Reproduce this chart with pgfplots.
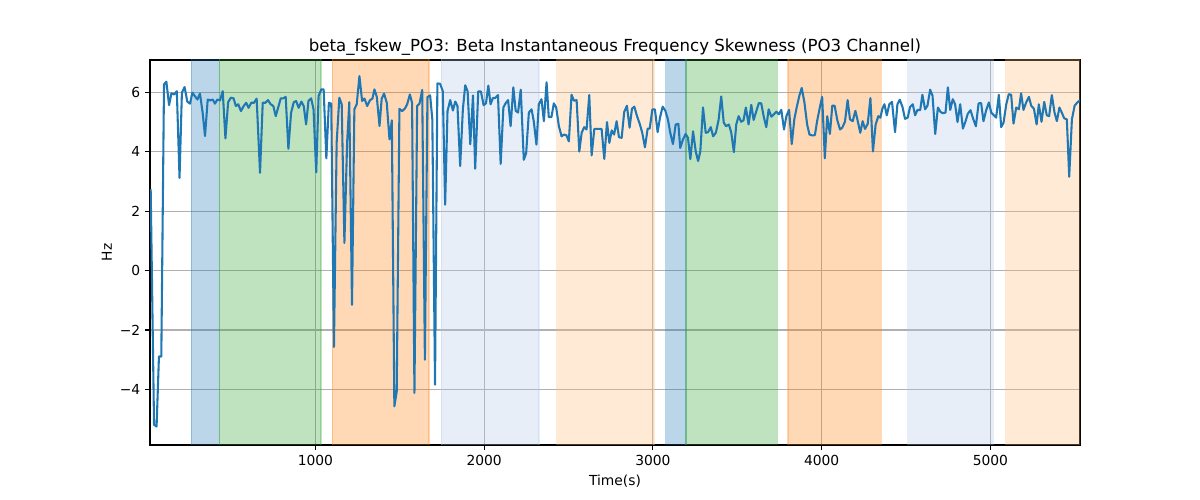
\documentclass[border=0pt]{standalone}
\usepackage{pgfplots}
\pgfplotsset{compat=1.18}
\usepackage{fontspec}
\setmainfont{DejaVu Sans}
\definecolor{tabblue}{HTML}{1F77B4}
\definecolor{tabgreen}{HTML}{2CA02C}
\definecolor{taborange}{HTML}{FF7F0E}
\definecolor{ltblue}{HTML}{AEC7E8}
\definecolor{ltorange}{HTML}{FFBB78}
\definecolor{gridgray}{HTML}{B0B0B0}
\begin{document}
\begin{tikzpicture}
\path[use as bounding box] (0,0) rectangle (12in,5in);
\begin{axis}[
  at={(1.5in,0.55in)}, anchor=south west,
  scale only axis, width=9.3in, height=3.85in,
  xmin=20, xmax=5531, ymin=-5.87, ymax=7.09,
  xtick={1000,2000,3000,4000,5000},
  xticklabels={1000,2000,3000,4000,5000},
  ytick={-4,-2,0,2,4,6},
  yticklabels={−4,−2,0,2,4,6},
  tick align=outside, major tick length=3.5pt,
  tick style={black, line width=0.8pt},
  tick pos=left,
  grid=major,
  major grid style={color=gridgray, line width=0.8pt},
  axis line style={black, line width=0.8pt},
  ticklabel style={font=\fontsize{10}{12}\selectfont},
  title={beta\_fskew\_PO3: Beta Instantaneous Frequency Skewness (PO3 Channel)},
  title style={font=\fontsize{12}{14}\selectfont, at={(0.5,1)}, anchor=south, yshift=-6pt},
  xlabel={Time(s)}, ylabel={Hz},
  ylabel style={xshift=0pt, yshift=-1pt},
  label style={font=\fontsize{10}{12}\selectfont},
  clip=true,
]
\addplot[draw=tabblue, draw opacity=0.3, fill=tabblue, fill opacity=0.3, line width=1pt] coordinates {(265,-10) (265,10) (431,10) (431,-10)} -- cycle;
\addplot[draw=tabgreen, draw opacity=0.3, fill=tabgreen, fill opacity=0.3, line width=1pt] coordinates {(431,-10) (431,10) (1034,10) (1034,-10)} -- cycle;
\addplot[draw=taborange, draw opacity=0.3, fill=taborange, fill opacity=0.3, line width=1pt] coordinates {(1101,-10) (1101,10) (1674,10) (1674,-10)} -- cycle;
\addplot[draw=ltblue, draw opacity=0.3, fill=ltblue, fill opacity=0.3, line width=1pt] coordinates {(1747,-10) (1747,10) (2326,10) (2326,-10)} -- cycle;
\addplot[draw=ltorange, draw opacity=0.3, fill=ltorange, fill opacity=0.3, line width=1pt] coordinates {(2429,-10) (2429,10) (3006,10) (3006,-10)} -- cycle;
\addplot[draw=tabblue, draw opacity=0.3, fill=tabblue, fill opacity=0.3, line width=1pt] coordinates {(3075,-10) (3075,10) (3196,10) (3196,-10)} -- cycle;
\addplot[draw=tabgreen, draw opacity=0.3, fill=tabgreen, fill opacity=0.3, line width=1pt] coordinates {(3196,-10) (3196,10) (3737,10) (3737,-10)} -- cycle;
\addplot[draw=taborange, draw opacity=0.3, fill=taborange, fill opacity=0.3, line width=1pt] coordinates {(3800,-10) (3800,10) (4354,10) (4354,-10)} -- cycle;
\addplot[draw=ltblue, draw opacity=0.3, fill=ltblue, fill opacity=0.3, line width=1pt] coordinates {(4510,-10) (4510,10) (5018,10) (5018,-10)} -- cycle;
\addplot[draw=ltorange, draw opacity=0.3, fill=ltorange, fill opacity=0.3, line width=1pt] coordinates {(5091,-10) (5091,10) (5600,10) (5600,-10)} -- cycle;
\addplot[tabblue, line width=1.5pt, mark=none, line join=round] table {
24 2.75
44 -5.19
59 -5.25
73 -2.89
87 -2.89
103 6.27
117 6.36
133 5.57
147 5.97
163 5.93
179 6.04
195 3.12
209 5.99
225 6.18
241 5.69
257 5.62
271 5.99
285 5.88
301 5.76
316 5.96
332 5.31
346 4.53
362 5.76
378 5.73
392 5.76
405 5.62
419 5.76
435 5.73
451 6.04
467 4.45
483 5.67
499 5.82
515 5.80
529 5.54
543 5.60
559 5.37
575 5.54
590 5.65
604 5.48
620 5.65
636 5.65
652 5.79
672 3.29
688 5.65
704 5.65
719 5.74
735 5.6
751 5.54
765 5.2
779 5.48
795 5.8
810 5.8
824 5.85
840 4.1
856 5.31
872 5.67
886 5.71
901 5.48
917 5.69
931 5.54
945 4.92
959 5.71
975 5.8
989 5.43
1005 3.31
1019 5.88
1035 6.1
1049 6.1
1065 3.78
1080 5.65
1094 5.62
1110 -2.57
1126 4.3
1142 5.82
1156 5.6
1172 0.93
1188 4.3
1201 5.67
1217 -1.15
1231 5.43
1245 5.6
1261 6.55
1277 5.71
1291 5.79
1307 5.54
1324 5.74
1338 5.79
1350 6.1
1364 5.85
1380 4.87
1393 5.79
1407 5.96
1423 5.65
1439 4.42
1453 5.06
1468 -4.57
1482 -4.07
1498 5.45
1514 5.37
1530 5.45
1544 5.6
1560 5.93
1573 5.65
1587 -4.12
1603 5.54
1617 5.62
1633 6.08
1649 -3.0
1664 5.84
1680 5.9
1693 5.09
1709 -3.84
1723 6.3
1739 6.29
1755 6.04
1769 2.22
1783 5.37
1799 5.74
1815 5.39
1829 5.69
1842 5.54
1858 3.52
1874 5.43
1888 6.24
1902 6.04
1918 4.25
1934 5.9
1947 3.43
1965 6.03
1981 6.03
1997 5.57
2011 5.63
2025 6.23
2038 5.6
2052 5.81
2066 5.81
2082 5.91
2098 3.59
2114 5.49
2128 5.64
2142 5.74
2157 4.86
2173 6.17
2187 5.38
2201 5.32
2217 6.09
2235 3.73
2249 3.95
2265 5.32
2281 5.43
2294 5.03
2310 4.24
2324 5.6
2340 5.77
2354 5.03
2370 6.34
2383 5.17
2399 5.17
2413 5.63
2427 5.49
2443 4.86
2459 4.52
2473 4.58
2487 4.56
2502 4.35
2518 5.92
2532 5.72
2548 5.74
2564 4.01
2578 4.64
2593 4.83
2607 4.75
2623 5.91
2637 3.88
2653 4.77
2666 4.77
2680 4.77
2696 4.77
2712 3.76
2728 5.0
2742 4.3
2756 4.72
2770 4.58
2785 5.03
2799 4.49
2815 4.47
2830 5.34
2846 5.55
2862 4.81
2876 5.45
2890 5.52
2906 5.2
2922 4.94
2937 4.64
2953 4.15
2969 4.78
2981 4.78
2997 5.43
3012 5.43
3028 4.66
3042 5.15
3058 5.52
3074 5.38
3089 5.09
3103 4.64
3119 4.26
3135 4.92
3151 4.94
3162 4.13
3178 4.41
3194 4.6
3208 4.47
3222 3.75
3238 4.69
3254 4.01
3268 3.69
3281 4.01
3297 5.49
3313 4.64
3327 4.66
3343 4.83
3357 4.52
3373 4.64
3389 5.06
3405 5.86
3420 4.98
3434 4.86
3450 4.92
3464 4.66
3480 3.99
3494 4.92
3508 5.2
3523 5.01
3537 5.06
3551 5.49
3567 4.92
3583 5.58
3597 5.07
3612 5.35
3628 5.64
3642 5.63
3658 5.15
3672 4.83
3686 5.43
3702 5.18
3716 5.26
3732 5.35
3746 5.26
3761 5.41
3777 4.75
3791 5.2
3807 5.41
3823 4.26
3838 5.09
3852 5.49
3868 5.89
3882 6.15
3898 5.66
3914 4.92
3928 4.58
3944 4.55
3960 4.56
3974 5.06
3990 5.51
4003 5.85
4019 3.78
4033 5.2
4049 4.6
4063 5.55
4077 5.55
4093 5.06
4109 4.75
4122 4.81
4138 5.01
4154 5.74
4168 5.09
4184 5.03
4200 5.38
4213 5.06
4229 4.64
4243 5.03
4257 4.77
4273 4.94
4289 5.81
4304 4.01
4320 4.92
4336 5.2
4348 5.15
4360 5.45
4372 5.6
4386 5.23
4401 5.6
4417 5.68
4435 4.66
4449 5.6
4463 5.75
4479 5.51
4494 5.11
4510 5.15
4524 5.51
4540 5.6
4554 5.23
4568 5.41
4584 5.4
4597 5.92
4613 5.43
4627 5.55
4643 6.09
4657 5.89
4673 4.6
4689 5.49
4705 5.34
4718 5.3
4734 5.32
4748 6.17
4762 5.41
4777 5.77
4791 5.6
4805 5.0
4821 5.6
4837 4.78
4853 5.03
4866 5.28
4882 5.4
4898 5.11
4914 4.86
4930 5.63
4945 5.64
4959 5.03
4975 5.4
4991 5.66
5005 5.32
5021 5.23
5034 5.15
5050 5.92
5064 4.83
5078 4.98
5094 5.6
5109 5.94
5123 5.92
5137 4.95
5153 5.49
5169 5.43
5182 5.97
5196 5.41
5212 5.66
5228 5.85
5242 5.55
5258 5.45
5274 4.92
5287 5.6
5303 5.01
5319 5.68
5334 5.23
5348 5.2
5364 5.91
5380 5.32
5394 5.03
5409 5.49
5423 5.32
5437 5.13
5453 5.09
5467 3.16
5483 5.09
5499 5.55
5515 5.66
5531 5.74
};
\end{axis}
\end{tikzpicture}
\end{document}
